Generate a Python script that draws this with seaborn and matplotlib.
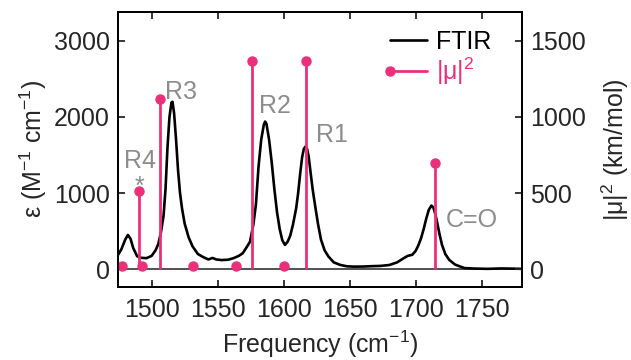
import matplotlib
matplotlib.use('Agg')
import matplotlib.pyplot as plt
from matplotlib.lines import Line2D
import seaborn as sns

# FTIR spectrum (cm-1, M-1 cm-1)
freq = [1474.5, 1477, 1480, 1482, 1484, 1486, 1489, 1492, 1496, 1500,
        1503, 1505, 1507, 1509, 1510.5, 1512, 1513.5, 1515, 1515.8, 1517,
        1518.5, 1520, 1521.5, 1523, 1525, 1528, 1531, 1535, 1539, 1543,
        1546, 1549, 1553, 1558, 1562, 1566, 1569, 1572, 1574.5, 1577,
        1579, 1581, 1583, 1585, 1586, 1587, 1589, 1591, 1593, 1595,
        1597, 1599, 1601, 1603, 1605, 1607, 1609.5, 1611, 1612.5, 1614,
        1615.3, 1616.5, 1617.8, 1619, 1620.5, 1622, 1624, 1626, 1628.3, 1631,
        1634, 1638, 1643, 1648, 1653, 1660, 1667, 1673, 1680, 1686,
        1691, 1694, 1697.5, 1700, 1702, 1704, 1706, 1708, 1710, 1712,
        1713.5, 1715, 1716.5, 1718, 1720, 1722.5, 1725.5, 1730, 1737, 1745,
        1755, 1765, 1772, 1780.5]
eps = [188, 260, 390, 450, 400, 280, 170, 150, 145, 175,
       250, 330, 480, 700, 1050, 1600, 2000, 2190, 2200, 2050,
       1700, 1300, 1000, 800, 600, 420, 300, 200, 160, 128,
       148, 128, 120, 125, 145, 175, 210, 290, 360, 580,
       850, 1350, 1700, 1900, 1940, 1910, 1700, 1400, 1050, 750,
       530, 380, 320, 360, 440, 580, 800, 1000, 1250, 1470,
       1580, 1610, 1580, 1480, 1260, 1050, 820, 600, 390, 250,
       166, 90, 56, 38, 34, 35, 40, 43, 55, 90,
       145, 175, 190, 240, 310, 400, 520, 660, 780, 836,
       810, 720, 600, 470, 320, 200, 122, 60, 15, 8,
       5, 10, 8, 5]

# calculated modes (cm-1, km/mol)
calc_freq = [1477.5, 1490.5, 1493, 1506, 1531, 1564, 1576, 1600.5, 1617, 1715]
calc_mu2 = [22, 515, 22, 1116, 22, 22, 1367, 22, 1367, 700]

# peak labels
peak_names = ['R4', '*', 'R3', 'R2', 'R1', 'C=O']
peak_x = [1491.5, 1490.7, 1522.2, 1593.4, 1636.6, 1742.7]
peak_y = [1331, 989, 2234, 2054, 1673, 560]

sns.set_style('ticks')
plt.rcParams['font.family'] = ['Liberation Sans', 'DejaVu Sans']
plt.rcParams['mathtext.fontset'] = 'custom'
plt.rcParams['mathtext.rm'] = 'Liberation Sans'
plt.rcParams['mathtext.it'] = 'Liberation Sans:italic'
plt.rcParams['mathtext.default'] = 'regular'

pink = '#EC2F7B'
gray = '#8C8C8C'
fs = 18

fig = plt.figure(figsize=(6.31, 3.6), dpi=100)
ax = fig.add_axes([0.187, 0.203, 0.640, 0.764])
ax2 = ax.twinx()

ax.axhline(0, color='#333333', lw=1.2, zorder=1)
sns.lineplot(x=freq, y=eps, ax=ax, color='k', lw=1.9, sort=False)

ml, sl, bl = ax2.stem(calc_freq, calc_mu2)
plt.setp(sl, color=pink, lw=2)
plt.setp(ml, color=pink, markersize=6.5)
bl.set_visible(False)

ax.set_xlim(1474.5, 1780.5)
ax.set_ylim(-232.6, 3381)
ax2.set_ylim(-116.3, 1690.5)
ax.set_xticks([1500, 1550, 1600, 1650, 1700, 1750])
ax.set_yticks([0, 1000, 2000, 3000])
ax2.set_yticks([0, 500, 1000, 1500])

for a in (ax, ax2):
    a.tick_params(direction='in', length=5, width=1.3, labelsize=fs, pad=6)
    for s in a.spines.values():
        s.set_linewidth(1.3)
        s.set_color('k')
ax.tick_params(axis='x', top=True, pad=8)
ax.tick_params(axis='y', right=False)

ax.set_xlabel('Frequency (cm$^{-1}$)', fontsize=fs, labelpad=5)
ax.set_ylabel('ε (M$^{-1}$ cm$^{-1}$)', fontsize=fs, labelpad=3)
ax2.set_ylabel('|μ|$^2$ (km/mol)', fontsize=fs, labelpad=10)

for name, x, y in zip(peak_names, peak_x, peak_y):
    ax.text(x, y, name, color=gray, fontsize=fs, ha='center', va='baseline')

handles = [Line2D([], [], color='k', lw=1.9),
           Line2D([], [], color=pink, lw=2, marker='o', markersize=6.5)]
leg = ax2.legend(handles, ['FTIR', '|μ|$^2$'], loc='upper right', bbox_to_anchor=(0.95, 0.97),
                 frameon=False, fontsize=fs, numpoints=1, handlelength=1.5,
                 handletextpad=0.36, labelspacing=0.05, borderaxespad=0,
                 labelcolor=['k', pink])
# marker at the left end of the legend line, as in the original
leg.legend_handles[1].set_markevery([0])

fig.savefig('out.png', dpi=100)
